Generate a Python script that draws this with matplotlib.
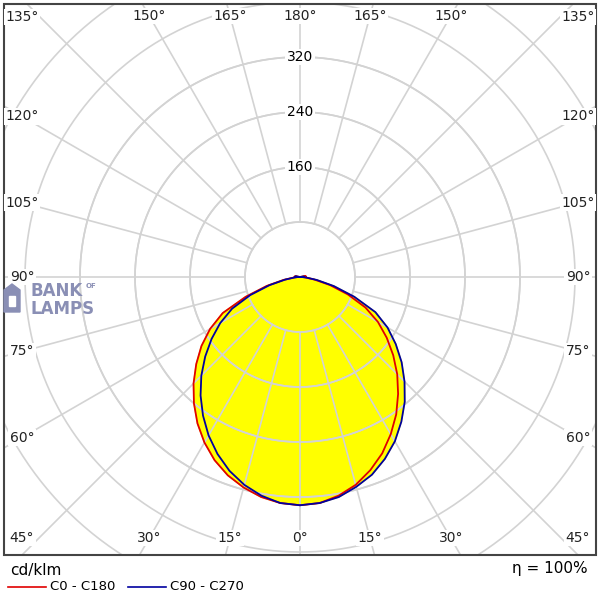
import numpy as np
import matplotlib.pyplot as plt

# luminous intensity, cd/klm, gamma measured from nadir
gamma = [0, 5, 10, 15, 20, 25, 30, 35, 40, 45, 50, 55, 60, 65, 70, 75, 80, 85, 90, 95, 100, 105]
c0 = [332, 330, 325, 317, 307, 294, 278, 260, 240, 219, 197, 175, 151, 124, 84, 50, 24, 9, 3, 8, 6, 0]
c180 = [332, 330, 323, 313, 299, 283, 264, 244, 222, 200, 177, 154, 131, 105, 74, 45, 21, 8, 3, 9, 7, 0]
c90 = [332, 330, 323, 313, 300, 284, 266, 246, 225, 203, 180, 157, 134, 109, 77, 46, 22, 8, 3, 7, 5, 0]
c270 = [332, 330, 325, 316, 306, 292, 276, 257, 237, 215, 193, 170, 147, 121, 84, 51, 25, 9, 3, 6, 4, 0]

rings = [80, 160, 240, 320, 400, 480]
ring_labels = [160, 240, 320]
angle_labels = [0, 15, 30, 45, 60, 75, 90, 105, 120, 135, 150, 165, 180]

cx, cy = 300, 277
scale = 55 / 80.0
L, R, T, B = 4, 596, 4, 555

def to_xy(ang, val, side):
    a = np.radians(ang)
    r = np.array(val) * scale
    return cx + side * r * np.sin(a), cy + r * np.cos(a)

def curve(left, right):
    xl, yl = to_xy(gamma, left, -1)
    xr, yr = to_xy(gamma, right, 1)
    return np.concatenate([xl[::-1], xr]), np.concatenate([yl[::-1], yr])

fig = plt.figure(figsize=(6, 6), dpi=100)
ax = fig.add_axes([0, 0, 1, 1])
ax.set_xlim(0, 600)
ax.set_ylim(600, 0)
ax.axis('off')

clip = plt.Rectangle((L, T), R - L, B - T, transform=ax.transData)
grid = '#d3d3d3'
t = np.linspace(0, 2 * np.pi, 400)
for rv in rings:
    ln, = ax.plot(cx + rv * scale * np.cos(t), cy + rv * scale * np.sin(t), color=grid, lw=1.2)
    ln.set_clip_path(clip)
for a in range(0, 360, 15):
    ar = np.radians(a)
    ln, = ax.plot([cx + 80 * scale * np.sin(ar), cx + 600 * np.sin(ar)],
                  [cy + 80 * scale * np.cos(ar), cy + 600 * np.cos(ar)], color=grid, lw=1.2, zorder=2)
    ln.set_clip_path(clip)

xr_, yr_ = curve(c0, c180)
xb_, yb_ = curve(c90, c270)
ax.fill(xr_, yr_, color='#ffff00', zorder=1)
ax.fill(xb_, yb_, color='#ffff00', zorder=1)
for rv in [80, 160, 240, 320]:
    ax.plot(cx + rv * scale * np.cos(t), cy + rv * scale * np.sin(t), color=grid, lw=1.2, zorder=2)
ax.plot(xr_, yr_, color='#e00000', lw=1.3, zorder=3)
ax.plot(xb_, yb_, color='#0000a0', lw=1.3, zorder=4)

ax.add_patch(plt.Rectangle((L, T), R - L, B - T, fill=False, ec='#444444', lw=1.5, zorder=5))

for v in ring_labels:
    ax.text(cx, cy - v * scale, str(v), ha='center', va='center', fontsize=10,
            bbox=dict(fc='white', ec='none', pad=1), zorder=6)

# angle labels along the frame
for a in angle_labels:
    for side in (-1, 1):
        if a in (0, 180) and side == 1:
            continue
        ar = np.radians(a)
        dx, dy = side * np.sin(ar), np.cos(ar)
        tx = (278 / abs(dx)) if abs(dx) > 1e-6 else 1e9
        ty = (261 / abs(dy)) if abs(dy) > 1e-6 else 1e9
        k = min(tx, ty)
        x, y = cx + dx * k, cy + dy * k
        if a in (45, 135):
            x, y = cx + side * 278, cy + (261 if a == 45 else -260)
        ax.text(x, y, f'{a}°', ha='center', va='center', fontsize=10, color='#222222',
                bbox=dict(fc='white', ec='none', pad=1), zorder=6)

# logo
logo = '#8a8fb5'
ax.add_patch(plt.Polygon([[4, 290], [12, 284], [20, 290], [20, 312], [4, 312]], color=logo, zorder=6))
ax.add_patch(plt.Rectangle((9, 296), 6, 10, color='white', zorder=7))
ax.text(31, 291, 'BANK', fontsize=12, fontweight='bold', color=logo, va='center', zorder=6)
ax.text(86, 286, 'OF', fontsize=5, fontweight='bold', color=logo, va='center', zorder=6)
ax.text(31, 309, 'LAMPS', fontsize=12, fontweight='bold', color=logo, va='center', zorder=6)

ax.text(10, 570, 'cd/klm', fontsize=11, va='center')
ax.plot([8, 46], [587, 587], color='#e00000', lw=1.2)
ax.text(50, 587, 'C0 - C180', fontsize=9.5, va='center')
ax.plot([128, 166], [587, 587], color='#0000a0', lw=1.2)
ax.text(170, 587, 'C90 - C270', fontsize=9.5, va='center')
ax.text(588, 569, 'η = 100%', fontsize=11, va='center', ha='right')

fig.savefig('out.png', dpi=100)
